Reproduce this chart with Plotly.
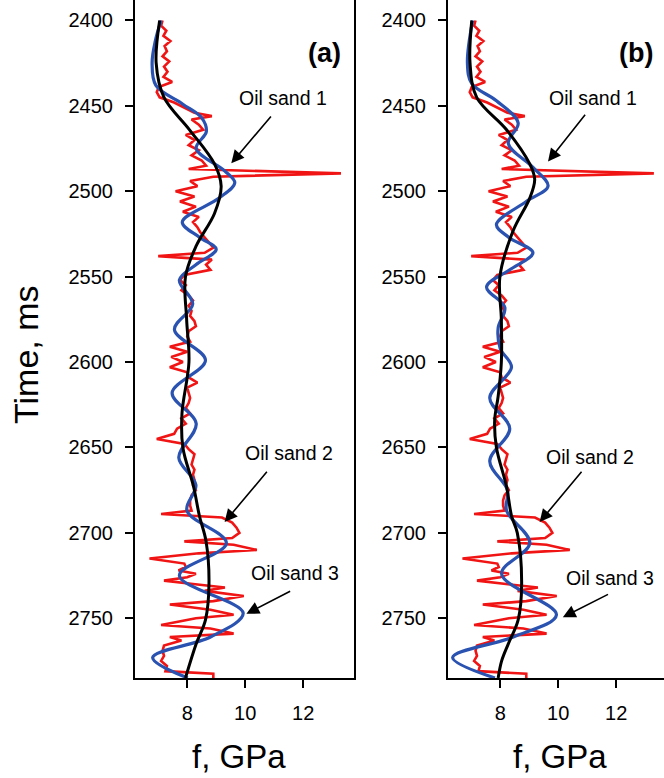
import plotly.graph_objects as go

# ---------------- data ----------------
RED_T = [2400, 2403, 2406, 2409, 2412, 2415, 2418, 2421, 2424, 2427, 2430, 2433, 2436, 2439, 2442, 2445,
         2448, 2451, 2454, 2456, 2458, 2461, 2464, 2467, 2470, 2473, 2476, 2479, 2482, 2485, 2487, 2489.5,
         2491.5, 2494, 2497, 2500, 2503, 2506, 2509, 2512, 2515, 2518, 2521, 2524, 2527, 2530, 2533, 2536,
         2538, 2540, 2543, 2546, 2549, 2552, 2555, 2558, 2561, 2564, 2567, 2570, 2573, 2576, 2579, 2582,
         2585, 2588, 2591, 2594, 2597, 2600, 2603, 2606, 2609, 2612, 2615, 2618, 2621, 2624, 2627, 2630,
         2633, 2636, 2639, 2642, 2645, 2648, 2651, 2654, 2657, 2660, 2663, 2666, 2669, 2672, 2675, 2678,
         2681, 2684, 2687, 2689, 2691, 2694, 2697, 2700, 2703, 2705, 2707, 2710, 2712, 2715, 2718, 2720,
         2722, 2724, 2726, 2728, 2730, 2732, 2734, 2737, 2740, 2742, 2745, 2748, 2750, 2754, 2756, 2759,
         2761, 2763, 2766, 2769, 2772, 2775, 2778, 2781, 2782.5, 2785]
RED_F = [7.15, 7.10, 7.28, 7.18, 7.42, 7.22, 7.30, 7.15, 7.38, 7.20, 7.32, 7.18, 7.48, 7.02, 6.95, 7.05,
         7.55, 7.90, 8.25, 8.85, 8.15, 8.40, 8.55, 7.95, 8.25, 8.05, 8.40, 8.15, 8.50, 8.65, 8.05, 13.3,
         8.90, 8.10, 8.35, 7.60, 8.25, 7.75, 8.30, 7.85, 8.40, 8.20, 8.35, 8.45, 8.60, 8.75, 8.90, 8.60,
         7.00, 8.85, 8.65, 8.80, 7.90, 7.75, 7.95, 7.80, 8.05, 8.20, 8.05, 8.15, 8.10, 8.25, 8.30, 8.05,
         8.00, 8.10, 7.40, 8.00, 7.45, 7.85, 7.40, 8.00, 8.05, 8.35, 8.00, 8.05, 8.10, 8.05, 7.95, 8.10,
         7.80, 7.95, 7.65, 7.55, 6.95, 7.90, 8.05, 8.25, 8.20, 8.15, 8.25, 8.20, 8.25, 8.20, 8.30, 8.15,
         8.10, 8.10, 8.15, 7.10, 9.20, 9.55, 9.70, 9.80, 9.55, 7.90, 9.60, 10.4, 8.40, 6.70, 7.90, 7.95,
         7.70, 8.30, 8.00, 7.20, 8.20, 9.30, 8.60, 9.95, 8.90, 7.40, 8.80, 9.60, 8.30, 7.10, 8.80, 9.60,
         7.40, 7.80, 7.20, 7.15, 7.20, 7.10, 7.30, 7.25, 8.90, 8.90]

BLUE_A_T = [2400, 2412, 2425, 2438, 2449, 2457, 2465, 2475, 2488, 2495, 2504, 2518, 2527, 2534, 2543,
            2552, 2566, 2581, 2599, 2618, 2636, 2656, 2672, 2687, 2706, 2725, 2747, 2761, 2773, 2785]
BLUE_A_F = [7.10, 6.90, 6.79, 6.92, 7.85, 8.50, 8.66, 8.31, 9.29, 9.64, 9.10, 7.83, 8.43, 9.00, 8.30,
            7.73, 8.19, 7.56, 8.63, 7.48, 8.31, 7.71, 8.30, 7.99, 9.35, 7.73, 9.93, 8.80, 6.81, 8.02]

BLACK_A_T = [2400, 2425, 2445, 2464, 2484, 2497, 2513, 2532, 2550, 2575, 2600, 2630, 2650, 2673, 2690,
             2705, 2730, 2751, 2765, 2785]
BLACK_A_F = [7.05, 6.93, 7.20, 8.08, 8.94, 9.17, 8.94, 8.31, 7.94, 7.98, 8.06, 7.82, 7.85, 8.22, 8.42,
             8.65, 8.75, 8.63, 8.31, 7.94]

BLUE_B_T = [2400, 2425, 2437, 2447, 2460, 2472, 2486, 2497, 2506, 2519.5, 2527, 2536, 2546, 2556, 2568,
            2580, 2592, 2603, 2621, 2639, 2658, 2675, 2687, 2706, 2724, 2748, 2761, 2773, 2785]
BLUE_B_F = [7.05, 6.87, 7.02, 7.87, 8.62, 8.28, 9.13, 9.65, 8.90, 7.87, 8.30, 9.13, 8.33, 7.53, 8.16,
            7.93, 8.00, 8.39, 7.64, 8.33, 7.64, 8.25, 8.22, 9.02, 8.05, 9.94, 8.45, 6.36, 7.82]

BLACK_B_T = [2400, 2425, 2445, 2464, 2484, 2493, 2504, 2523, 2550, 2575, 2600, 2620, 2634, 2650, 2673,
             2690, 2700, 2730, 2751, 2765, 2775, 2785]
BLACK_B_F = [7.02, 6.96, 7.19, 8.22, 9.02, 9.19, 9.02, 8.45, 7.99, 8.04, 8.04, 7.93, 7.81, 7.87, 8.22,
             8.39, 8.59, 8.74, 8.62, 8.28, 8.05, 7.93]

Y_TICKS = [2400, 2450, 2500, 2550, 2600, 2650, 2700, 2750]
X_TICKS = [8, 10, 12]
PANEL_LABELS = ["(a)", "(b)"]
SANDS = ["Oil sand 1", "Oil sand 2", "Oil sand 3"]

# ---------------- figure ----------------
RED = "#F01414"
BLUE = "#2A52B0"
FONT = "Liberation Sans, Arial, sans-serif"

fig = go.Figure()
panels = [("x", "y", BLUE_A_T, BLUE_A_F, BLACK_A_T, BLACK_A_F),
          ("x2", "y2", BLUE_B_T, BLUE_B_F, BLACK_B_T, BLACK_B_F)]
for xa, ya, bt, bf, kt, kf in panels:
    fig.add_trace(go.Scatter(x=RED_F, y=RED_T, mode="lines", xaxis=xa, yaxis=ya,
                             line=dict(color=RED, width=2.6), showlegend=False))
    fig.add_trace(go.Scatter(x=bf, y=bt, mode="lines", xaxis=xa, yaxis=ya,
                             line=dict(color=BLUE, width=3.2, shape="spline", smoothing=1.0), showlegend=False))
    fig.add_trace(go.Scatter(x=kf, y=kt, mode="lines", xaxis=xa, yaxis=ya,
                             line=dict(color="black", width=3, shape="spline", smoothing=1.0), showlegend=False))

W, H = 664, 778
ML, MB, MT = 135, 100, 0
pw = W - ML
ph = H - MB - MT


def px(x):
    return (x - ML) / pw


def py(y):
    return (H - MB - y) / ph


ax_common = dict(showgrid=False, zeroline=False, showline=True, linecolor="black", linewidth=2,
                 ticks="outside", ticklen=8, tickwidth=2, tickcolor="black",
                 tickfont=dict(family=FONT, size=20, color="black"))
xa_common = dict(ax_common, tickvals=X_TICKS, ticklabelstandoff=8)
ya_common = dict(ax_common, tickvals=Y_TICKS, range=[2785, 2388], ticklabelstandoff=8)

fig.update_layout(
    width=W, height=H,
    margin=dict(l=ML, r=0, t=MT, b=MB),
    plot_bgcolor="white", paper_bgcolor="white",
    xaxis=dict(xa_common, domain=[0, px(354)], range=[6.2, 13.75], anchor="y"),
    yaxis=dict(ya_common, domain=[0, 1], anchor="x", mirror=True),
    xaxis2=dict(xa_common, domain=[px(448), 1.0], range=[6.2, 13.65], anchor="y2"),
    yaxis2=dict(ya_common, domain=[0, 1], anchor="x2"),
)

ann = []
C = dict(xanchor="center", yanchor="middle", showarrow=False)
# panel labels
for lab, cx in zip(PANEL_LABELS, [324.5, 635.5]):
    ann.append(dict(C, text="<b>%s</b>" % lab, x=px(cx), y=py(53), xref="paper", yref="paper",
                    font=dict(family=FONT, size=27, color="black")))
# axis titles
ann.append(dict(C, text="Time, ms", x=px(26), y=py(355), xref="paper", yref="paper", textangle=-90,
                font=dict(family=FONT, size=34, color="black")))
for cx in [239, 560]:
    ann.append(dict(C, text="f, GPa", x=px(cx), y=py(756), xref="paper", yref="paper",
                    font=dict(family=FONT, size=33, color="black")))

# oil sand arrows (head f,t ; tail f,t ; label f,t)
arrows_a = [(9.52, 2483.6, 10.93, 2455.3, 11.3, 2445.5),
            (9.29, 2693.7, 10.79, 2663.4, 11.5, 2653.5),
            (10.04, 2747.4, 11.6, 2733.7, 11.7, 2723.6)]
arrows_b = [(9.65, 2482.6, 10.97, 2454.3, 11.2, 2445.5),
            (9.36, 2693.7, 10.85, 2663.4, 11.1, 2655.5),
            (10.16, 2749.4, 11.77, 2735.6, 11.8, 2726.5)]
for (xr, yr, arr) in [("x", "y", arrows_a), ("x2", "y2", arrows_b)]:
    for name, (hx, hy, tx, ty, lx, ly) in zip(SANDS, arr):
        ann.append(dict(x=hx, y=hy, ax=tx, ay=ty, xref=xr, yref=yr, axref=xr, ayref=yr,
                        showarrow=True, arrowhead=2, arrowsize=1.6, arrowwidth=1.6, arrowcolor="black",
                        text=""))
        ann.append(dict(C, x=lx, y=ly, xref=xr, yref=yr, text=name,
                        font=dict(family=FONT, size=19.5, color="black")))
fig.update_layout(annotations=ann)

fig.write_html("out.html")
